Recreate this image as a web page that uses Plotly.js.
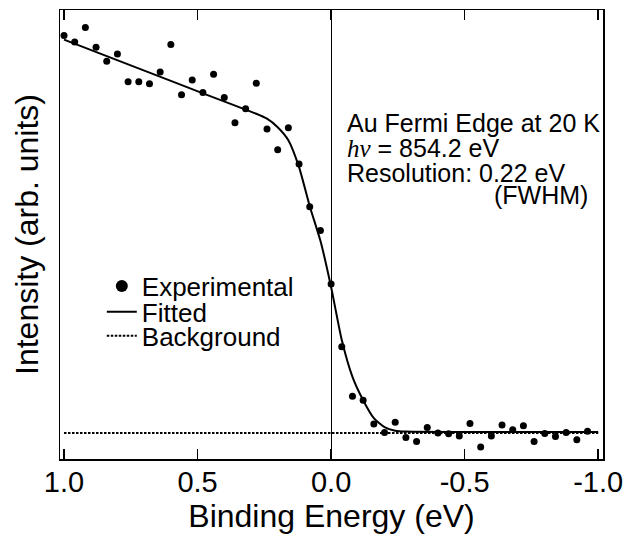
<!DOCTYPE html>
<html>
<head>
<meta charset="utf-8">
<script src="https://cdn.plot.ly/plotly-3.0.1.min.js"></script>
<style>html,body{margin:0;padding:0;background:#fff;}#chart{width:641px;height:534px;}</style>
</head>
<body>
<div id="chart"></div>
<script>
// Binding energy (eV) of each experimental point
const energy = [1.00,0.96,0.92,0.88,0.84,0.80,0.76,0.72,0.68,0.64,0.60,0.56,0.52,0.48,0.44,0.40,0.36,0.32,0.28,0.24,0.20,0.16,0.12,0.08,0.04,0.00,-0.04,-0.08,-0.12,-0.16,-0.20,-0.24,-0.28,-0.32,-0.36,-0.40,-0.44,-0.48,-0.52,-0.56,-0.60,-0.64,-0.68,-0.72,-0.76,-0.80,-0.84,-0.88,-0.92,-0.96];
// Experimental intensity (arb. units)
const intensity = [94.3,92.9,96.1,91.7,88.6,90.2,84.0,84.0,83.6,86.2,92.3,81.1,84.4,81.6,85.7,80.5,74.9,78.0,83.7,73.5,68.9,73.8,65.7,56.2,50.9,39.0,25.0,14.0,13.1,7.8,5.9,8.2,4.8,3.9,7.0,5.8,5.6,5.1,7.9,2.7,5.1,7.6,6.5,7.4,3.9,5.7,5.0,5.9,4.3,6.2];
// Fitted curve
const fitEnergy = [1.00,0.60,0.32,0.28,0.24,0.20,0.16,0.12,0.08,0.04,0.00,-0.04,-0.08,-0.12,-0.16,-0.20,-0.24,-0.28,-1.00];
const fitIntensity = [93.4,84.2,77.8,76.9,75.8,73.9,71.0,65.0,56.3,48.6,38.3,26.5,18.3,13.1,9.1,7.1,6.3,6.1,6.0];
// Background level
const bgEnergy = [1.00,-1.00];
const bgIntensity = [5.8,5.8];
// Tick labels
const tickValues = [1.0,0.5,0.0,-0.5,-1.0];
const tickLabels = ['1.0','0.5','0.0','-0.5','-1.0'];
const seriesNames = ['Experimental','Fitted','Background'];

const FONT = 'Liberation Sans, Arial, Helvetica, sans-serif';

const traces = [
  {x: energy, y: intensity, type: 'scatter', mode: 'markers', name: seriesNames[0],
   marker: {color: '#000', size: 7}, legend: 'legend'},
  {x: fitEnergy, y: fitIntensity, type: 'scatter', mode: 'lines', name: seriesNames[1],
   line: {color: '#000', width: 2, shape: 'spline', smoothing: 0.6}, legend: 'legend2'},
  {x: bgEnergy, y: bgIntensity, type: 'scatter', mode: 'lines', name: seriesNames[2],
   line: {color: '#000', width: 2, dash: '2.5px,1.5px'}, legend: 'legend3'}
];

const legendBase = {xanchor: 'left', yanchor: 'middle', bgcolor: 'rgba(0,0,0,0)',
  font: {family: FONT, size: 26, color: '#000'}, borderwidth: 0};

const layout = {
  width: 641, height: 534,
  margin: {l: 60, r: 38, t: 10, b: 75, pad: 0},
  paper_bgcolor: '#fff', plot_bgcolor: '#fff',
  font: {family: FONT, color: '#000'},
  showlegend: true,
  legend: Object.assign({x: 0.077, y: 0.385, itemsizing: 'constant'}, legendBase),
  legend2: Object.assign({x: 0.077, y: 0.328}, legendBase),
  legend3: Object.assign({x: 0.077, y: 0.274}, legendBase),
  xaxis: {
    range: [1.015, -1.018], tickvals: tickValues, ticktext: tickLabels,
    ticks: 'inside', ticklen: 10, tickwidth: 1.5, tickcolor: '#000',
    showline: true, linecolor: '#000', linewidth: 1.5, mirror: 'ticks',
    showgrid: false, zeroline: true, zerolinecolor: '#000', zerolinewidth: 1,
    tickfont: {family: FONT, size: 29, color: '#000'}, ticklabelstandoff: -3,
    title: {text: 'Binding Energy (eV)', font: {family: FONT, size: 32, color: '#000'}, standoff: 4},
    automargin: false
  },
  yaxis: {
    range: [0, 100], showticklabels: false, ticks: '',
    showline: true, linecolor: '#000', linewidth: 1.5, mirror: true,
    showgrid: false, zeroline: false,
    title: {text: 'Intensity (arb. units)', font: {family: FONT, size: 32, color: '#000'}, standoff: 10},
    automargin: false
  },
  annotations: [
    {xref: 'paper', yref: 'paper', x: 0.524, y: 0.748, xanchor: 'left', yanchor: 'middle', showarrow: false,
     text: 'Au Fermi Edge at 20 K', font: {family: FONT, size: 25, color: '#000'}},
    {xref: 'paper', yref: 'paper', x: 0.524, y: 0.692, xanchor: 'left', yanchor: 'middle', showarrow: false,
     text: '<span style="font-family:\'Liberation Serif\';font-style:italic">hν</span> = 854.2 eV', font: {family: FONT, size: 25, color: '#000'}},
    {xref: 'paper', yref: 'paper', x: 0.524, y: 0.637, xanchor: 'left', yanchor: 'middle', showarrow: false,
     text: 'Resolution: 0.22 eV', font: {family: FONT, size: 25, color: '#000'}},
    {xref: 'paper', yref: 'paper', x: 0.976, y: 0.587, xanchor: 'right', yanchor: 'middle', showarrow: false,
     text: '(FWHM)', font: {family: FONT, size: 25, color: '#000'}}
  ]
};

Plotly.newPlot('chart', traces, layout, {staticPlot: true, displayModeBar: false});
</script>
</body>
</html>
